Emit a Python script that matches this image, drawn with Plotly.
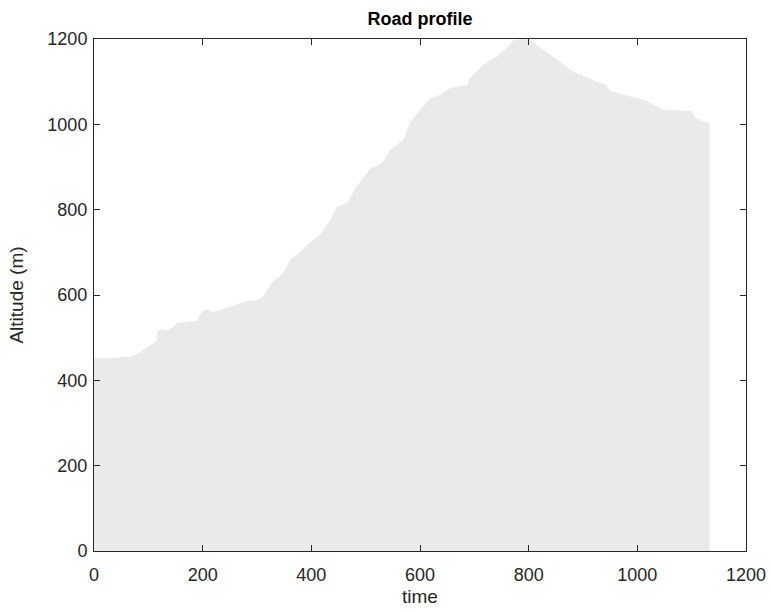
import plotly.graph_objects as go

time = [0, 30, 50, 66, 80, 97, 108, 115, 117, 125, 136, 145, 153, 170, 190, 195, 200, 208, 219, 240,
        263, 281, 300, 309, 321, 330, 348, 361, 379, 398, 416, 435, 447, 466, 481, 496, 508, 530, 545,
        569, 582, 600, 619, 637, 656, 687, 692, 716, 742, 760, 772, 790, 803, 834, 880, 926, 943, 949,
        980, 1013, 1048, 1099, 1108, 1120, 1133]
altitude = [452, 452, 454, 455, 462, 476, 487, 492, 516, 520, 516, 525, 534, 537, 539, 555, 562, 567, 560, 568,
            579, 586, 588, 593, 615, 633, 651, 682, 701, 724, 741, 776, 806, 816, 851, 877, 896, 909, 940,
            963, 1005, 1034, 1062, 1069, 1085, 1092, 1108, 1139, 1160, 1180, 1197, 1200, 1197, 1169, 1125, 1099, 1094, 1078,
            1068, 1057, 1034, 1031, 1015, 1008, 1003]

ticks = [0, 200, 400, 600, 800, 1000, 1200]

FONT = "Liberation Sans, Arial, Helvetica"

fig = go.Figure()
fig.add_trace(go.Scatter(x=time, y=altitude, mode="lines", fill="tozeroy",
                         line=dict(width=0, color="#eaeaea"), fillcolor="#eaeaea",
                         showlegend=False, hoverinfo="skip"))

axis_common = dict(showline=True, linecolor="#262626", linewidth=1, mirror="ticks",
                   ticks="inside", ticklen=6, tickcolor="#262626", showgrid=False, zeroline=False,
                   automargin=False,
                   tickfont=dict(family=FONT, size=18, color="#262626"),
                   range=[0, 1200], tickvals=ticks, ticktext=[str(t) for t in ticks])

fig.update_layout(
    width=771, height=612,
    margin=dict(l=94, r=25, t=39, b=61),
    paper_bgcolor="white", plot_bgcolor="white",
    title=dict(text="<b>Road profile</b>", x=(94 + 746) / 2 / 771, xanchor="center",
               y=1 - 19 / 612, yanchor="middle",
               font=dict(family=FONT, size=18, color="#000000")),
    xaxis=dict(**axis_common, ticklabelstandoff=7,
               title=dict(text="time", standoff=6,
                          font=dict(family=FONT, size=19, color="#262626"))),
    yaxis=dict(**axis_common, ticklabelstandoff=2,
               title=dict(text="Altitude (m)", standoff=18,
                          font=dict(family=FONT, size=19, color="#262626"))),
)

fig.write_html("out.html")
